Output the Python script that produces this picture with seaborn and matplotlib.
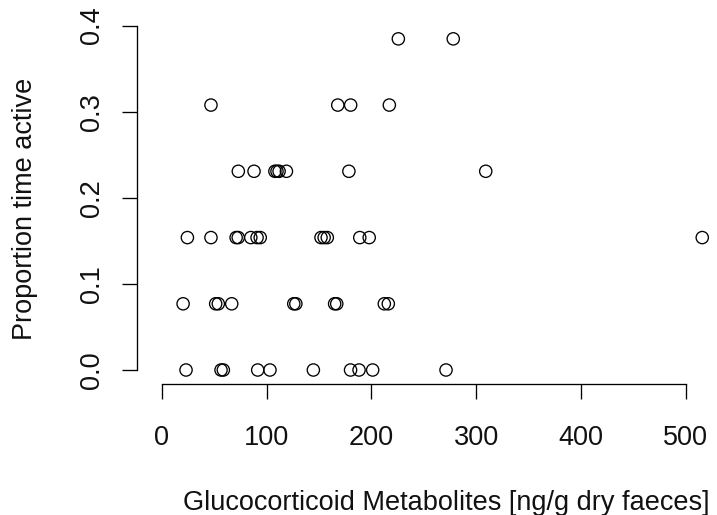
import matplotlib
matplotlib.use('Agg')
import matplotlib.pyplot as plt
import seaborn as sns
import pandas as pd

gcm_0 = [23.2, 56.6, 58.8, 91.6, 103.3, 144.7, 180.2, 188.3, 201.3, 271.3]
gcm_1 = [20.4, 51.5, 54.0, 66.8, 126.0, 128.0, 165.0, 167.0, 212.4, 216.2]
gcm_2 = [24.5, 47.0, 71.0, 73.0, 85.0, 91.0, 94.0, 152.0, 155.0, 158.0, 189.0, 198.0, 515.8]
gcm_3 = [73.1, 88.1, 108.0, 110.0, 112.0, 119.0, 178.6, 309.2]
gcm_4 = [47.0, 168.0, 180.3, 217.2]
gcm_5 = [225.8, 278.2]
prop_levels = [0.0, 0.0769, 0.1538, 0.2308, 0.3077, 0.3846]

rows = [gcm_0, gcm_1, gcm_2, gcm_3, gcm_4, gcm_5]
df = pd.DataFrame({
    'gcm': [v for r in rows for v in r],
    'prop': [p for r, p in zip(rows, prop_levels) for _ in r],
})

sns.set_style('ticks')
plt.rcParams['font.family'] = ['Liberation Sans', 'DejaVu Sans']
fs = 19.5

fig = plt.figure(figsize=(7.17, 5.15), dpi=100)
ax = fig.add_axes([137.3 / 717, 131 / 515, 572.7 / 717, 364 / 515])

sns.scatterplot(data=df, x='gcm', y='prop', ax=ax, s=78, marker='o',
                facecolors='none', edgecolor='black', linewidth=0.95,
                clip_on=False)

ax.set_xlim(-23.3, 523.2)
ax.set_ylim(-0.01626, 0.4065)
ax.set_xticks([0, 100, 200, 300, 400, 500])
ax.set_yticks([0.0, 0.1, 0.2, 0.3, 0.4])
ax.set_yticklabels(['0.0', '0.1', '0.2', '0.3', '0.4'], rotation=90, va='center')

sns.despine(ax=ax)
ax.spines['left'].set_bounds(0, 0.4)
ax.spines['bottom'].set_bounds(0, 500)
for sp in ['left', 'bottom']:
    ax.spines[sp].set_linewidth(0.95)
    ax.spines[sp].set_color('black')

ax.tick_params(axis='both', direction='out', length=11, width=0.95,
               bottom=True, left=True,
               color='black', labelsize=fs, labelcolor='#111111')
ax.tick_params(axis='x', pad=18.5)
ax.tick_params(axis='y', pad=12.5)

ax.set_xlabel('Glucocorticoid Metabolites [ng/g dry faeces]', fontsize=fs,
              color='#111111', ha='center', va='center')
ax.set_ylabel('Proportion time active', fontsize=fs, color='#111111',
              ha='center', va='center')
ax.xaxis.set_label_coords(446.5 / 717, (515 - 503) / 515, transform=fig.transFigure)
ax.yaxis.set_label_coords(25 / 717, (515 - 209) / 515, transform=fig.transFigure)

fig.savefig('out.png', dpi=100)
